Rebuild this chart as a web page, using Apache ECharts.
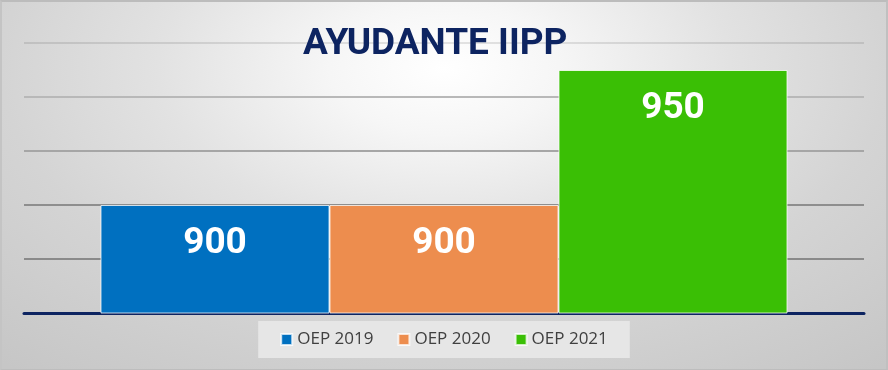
<!DOCTYPE html>
<html><head><meta charset="utf-8">
<script src="https://cdn.jsdelivr.net/npm/echarts@6/dist/echarts.min.js"></script>
<style>html,body{margin:0;padding:0;background:#c4c4c4}
#c{width:884px;height:367px;border-style:solid;border-color:#bcbcbc #c0c0c0 #bdbdbd #c4c4c4;border-width:2px 2px 1px 2px;
background:radial-gradient(ellipse 520px 300px at 50% 18%, #ffffff 0%, #f6f6f6 22%, #e2e2e2 55%, #d4d4d4 85%, #c6c6c6 130%)}</style>
</head><body><div id="c"></div>
<script>
const title = 'AYUDANTE IIPP';
const categories = ['AYUDANTE IIPP'];
const seriesNames = ['OEP 2019', 'OEP 2020', 'OEP 2021'];
const values2019 = [900];
const values2020 = [900];
const values2021 = [950];
const colors = ['#0070c0', '#ed8d4e', '#3abf05'];

const chart = echarts.init(document.getElementById('c'));
const vals = [values2019, values2020, values2021];
chart.setOption({
  backgroundColor: 'transparent',
  title: {text: title, left: 301, top: 24, padding: 0, textStyle:{fontFamily:'Roboto', fontWeight:'bold', fontSize:37, color:'#0d2461'}},
  grid: {left: 22, right: 22, top: 41, bottom: 56},
  legend: {bottom: 11, left: 'center', itemWidth: 11, itemHeight: 11, itemGap: 24, padding: [10, 22, 10, 22],
    backgroundColor: '#e6e6e6', textStyle:{fontFamily:'Open Sans', fontSize:17, color:'#404040'},
    icon: 'rect', data: seriesNames},
  xAxis: {type:'category', data: categories, axisLabel:{show:false}, axisTick:{show:false},
    axisLine:{lineStyle:{color:'#0d2461', width:3}}},
  yAxis: {type:'value', min:860, max:960, interval:20, axisLabel:{show:false},
    splitLine:{lineStyle:{color:['#8a8a8a','#8a8a8a','#8e8e8e','#a6a6a6','#b8b8b8','rgba(0,0,0,0.1)'], width:2}}},
  series: seriesNames.map((n,i)=>({
    name:n, type:'bar', data: vals[i], barWidth: 229, barGap:'0%',
    itemStyle:{color:colors[i], borderColor:'rgba(255,255,255,0.75)', borderWidth:1},
    label:{show:true, position:'insideTop', distance:20, color:'#ffffff', fontFamily:'Roboto', fontWeight:'bold', fontSize:37}
  }))
});
</script></body></html>
